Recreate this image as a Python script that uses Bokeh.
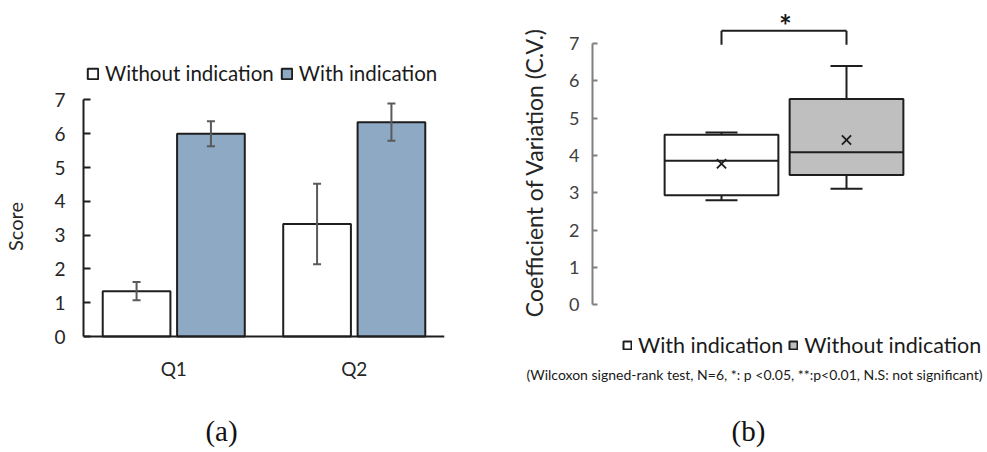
import math
from bokeh.plotting import figure
from bokeh.models import (FactorRange, Range1d, FixedTicker, Legend, LegendItem,
                          Label, Whisker, TeeHead, ColumnDataSource)
from bokeh.transform import dodge
from bokeh.layouts import row
from bokeh.embed import file_html
from bokeh.resources import INLINE

# ---------------- data (a) ----------------
questions = ["Q1", "Q2"]
without_mean = [1.34, 3.33]
without_err = [0.27, 1.19]
with_mean = [6.00, 6.34]
with_err = [0.37, 0.55]
series_a = ["Without indication", "With indication"]

# ---------------- data (b) ----------------
conditions = ["With indication", "Without indication"]
cv_min = [2.80, 3.11]
cv_q1 = [2.94, 3.48]
cv_median = [3.86, 4.09]
cv_q3 = [4.56, 5.52]
cv_max = [4.62, 6.40]
cv_mean = [3.78, 4.42]
sig_label = "*"
sig_level = 7.35
sig_leg = 6.97
y_ticks = [0, 1, 2, 3, 4, 5, 6, 7]
note = "(Wilcoxon signed-rank test, N=6, *: p <0.05, **:p<0.01, N.S: not significant)"

SANS = "Lato"
SERIF = "Liberation Serif"
BLUE = "#8EA9C4"
GRAY = "#BFBFBF"
DARK = "#1e1e1e"

# ================= (a) =================
src_a = ColumnDataSource(dict(
    q=questions,
    wo=without_mean,
    wo_lo=[m - e for m, e in zip(without_mean, without_err)],
    wo_hi=[m + e for m, e in zip(without_mean, without_err)],
    w=with_mean,
    w_lo=[m - e for m, e in zip(with_mean, with_err)],
    w_hi=[m + e for m, e in zip(with_mean, with_err)],
))

p1 = figure(width=480, height=452, output_backend="svg", toolbar_location=None,
            x_range=FactorRange(*questions, range_padding=0),
            y_range=Range1d(-3.432, 9.941),
            min_border_left=83, min_border_right=36, min_border_top=0, min_border_bottom=0)
p1.outline_line_color = None
p1.grid.visible = False
p1.background_fill_color = "white"

off = 0.206
bw = 0.375
r_wo = p1.vbar(x=dodge("q", -off, range=p1.x_range), top="wo", width=bw, source=src_a,
               fill_color="white", line_color=DARK, line_width=2)
r_w = p1.vbar(x=dodge("q", off, range=p1.x_range), top="w", width=bw, source=src_a,
              fill_color=BLUE, line_color=DARK, line_width=2)

for dx, lo, hi in [(-off, "wo_lo", "wo_hi"), (off, "w_lo", "w_hi")]:
    wk = Whisker(base=dodge("q", dx, range=p1.x_range), lower=lo, upper=hi, source=src_a,
                 line_color="#5a5a5a", line_width=2, level="annotation",
                 upper_head=TeeHead(size=8, line_color="#5a5a5a", line_width=2),
                 lower_head=TeeHead(size=8, line_color="#5a5a5a", line_width=2))
    p1.add_layout(wk)

ya = p1.yaxis[0]
ya.bounds = (0, 7)
ya.ticker = FixedTicker(ticks=y_ticks)
ya.axis_line_color = DARK
ya.axis_line_width = 2
ya.major_tick_in = 7
ya.major_tick_out = 0
ya.major_tick_line_color = DARK
ya.major_tick_line_width = 2
ya.minor_tick_line_color = None
ya.major_label_standoff = 18
ya.major_label_text_font = SANS
ya.major_label_text_font_size = "19px"
ya.major_label_text_color = "#262626"
ya.axis_label = "Score"
ya.axis_label_text_font = SANS
ya.axis_label_text_font_size = "20px"
ya.axis_label_text_font_style = "normal"
ya.axis_label_text_color = "#262626"
ya.axis_label_standoff = 24

xa = p1.xaxis[0]
xa.fixed_location = 0
xa.axis_line_color = DARK
xa.axis_line_width = 2
xa.major_tick_in = 0
xa.major_tick_out = 0
xa.minor_tick_line_color = None
xa.major_label_standoff = 20
xa.major_label_text_font = SANS
xa.major_label_text_font_size = "19px"
xa.major_label_text_color = "#262626"

leg1 = Legend(items=[(series_a[0], [r_wo]), (series_a[1], [r_w])],
              location=(3, 367), orientation="horizontal", padding=0, margin=0,
              spacing=6, label_standoff=6, glyph_width=13, glyph_height=13,
              label_height=13, label_text_font=SANS, label_text_font_size="20.5px",
              label_text_color="#1a1a1a", border_line_color=None,
              background_fill_alpha=0)
p1.add_layout(leg1)
p1.add_layout(Label(x=138, y=22, x_units="screen", y_units="screen", text="(a)",
                    text_align="center", text_baseline="middle", text_font=SERIF,
                    text_font_size="29px", text_color="#111111"))

# ================= (b) =================
xpos = list(range(len(conditions)))
src_b = ColumnDataSource(dict(
    c=conditions, x=xpos, mn=cv_min, q1=cv_q1, med=cv_median, q3=cv_q3, mx=cv_max,
    mean=cv_mean, fill=["white", GRAY],
))

p2 = figure(width=507, height=452, output_backend="svg", toolbar_location=None,
            x_range=Range1d(-1.928, 2.128), y_range=Range1d(-3.96, 8.158),
            min_border_left=0, min_border_right=0, min_border_top=0, min_border_bottom=0)
p2.outline_line_color = None
p2.grid.visible = False
p2.xaxis.visible = False

box_w = 0.91
cap = 0.128
# whiskers
p2.segment(x0="x", y0="mn", x1="x", y1="q1", source=src_b, line_color=DARK, line_width=2)
p2.segment(x0="x", y0="q3", x1="x", y1="mx", source=src_b, line_color=DARK, line_width=2)
p2.segment(x0=dodge("x", -cap), y0="mn", x1=dodge("x", cap), y1="mn", source=src_b,
           line_color=DARK, line_width=2)
p2.segment(x0=dodge("x", -cap), y0="mx", x1=dodge("x", cap), y1="mx", source=src_b,
           line_color=DARK, line_width=2)
# boxes
r_box = p2.vbar(x="x", bottom="q1", top="q3", width=box_w, source=src_b,
                fill_color="fill", line_color=DARK, line_width=2)
p2.segment(x0=dodge("x", -box_w / 2), y0="med", x1=dodge("x", box_w / 2), y1="med",
           source=src_b, line_color=DARK, line_width=2)
p2.scatter(x="x", y="mean", source=src_b, marker="x", size=13, line_color=DARK, line_width=1.8)

# significance bracket
src_s = ColumnDataSource(dict(x0=[xpos[0], xpos[0], xpos[1]],
                              x1=[xpos[1], xpos[0], xpos[1]],
                              y0=[sig_level, sig_level, sig_level],
                              y1=[sig_level, sig_leg, sig_leg]))
p2.segment(x0="x0", y0="y0", x1="x1", y1="y1", source=src_s, line_color=DARK, line_width=2)
p2.add_layout(Label(x=305, y=428, x_units="screen", y_units="screen", text=sig_label,
                    text_align="center", text_baseline="middle", text_font=SANS,
                    text_font_size="30px", text_font_style="bold", text_color="#1a1a1a"))

yb = p2.yaxis[0]
yb.fixed_location = -1.032
yb.bounds = (0, 7)
yb.ticker = FixedTicker(ticks=y_ticks)
yb.axis_line_color = "#808080"
yb.axis_line_width = 2
yb.major_tick_in = 5
yb.major_tick_out = 0
yb.major_tick_line_color = "#808080"
yb.major_tick_line_width = 2
yb.minor_tick_line_color = None
yb.major_label_standoff = 13
yb.major_label_text_font = SANS
yb.major_label_text_font_size = "18px"
yb.major_label_text_color = "#404040"

p2.add_layout(Label(x=53, y=280, x_units="screen", y_units="screen",
                    text="Coefficient of Variation (C.V.)", angle=math.pi / 2,
                    text_align="center", text_baseline="middle", text_font=SANS,
                    text_font_size="23px", text_color="#262626"))

leg2 = Legend(items=[LegendItem(label=conditions[0], renderers=[r_box], index=0),
                     LegendItem(label=conditions[1], renderers=[r_box], index=1)],
              location=(142, 94), orientation="horizontal", padding=0, margin=0,
              spacing=5, label_standoff=6, glyph_width=10, glyph_height=10,
              label_height=10, label_text_font=SANS, label_text_font_size="21.5px",
              label_text_color="#1a1a1a", border_line_color=None,
              background_fill_alpha=0)
p2.add_layout(leg2)
p2.add_layout(Label(x=274, y=78, x_units="screen", y_units="screen", text=note,
                    text_align="center", text_baseline="middle", text_font=SANS,
                    text_font_size="14px", text_color="#1a1a1a"))
p2.add_layout(Label(x=268, y=22, x_units="screen", y_units="screen", text="(b)",
                    text_align="center", text_baseline="middle", text_font=SERIF,
                    text_font_size="29px", text_color="#111111"))

layout = row(p1, p2, spacing=0)
open("out.html", "w").write(file_html(layout, INLINE))
